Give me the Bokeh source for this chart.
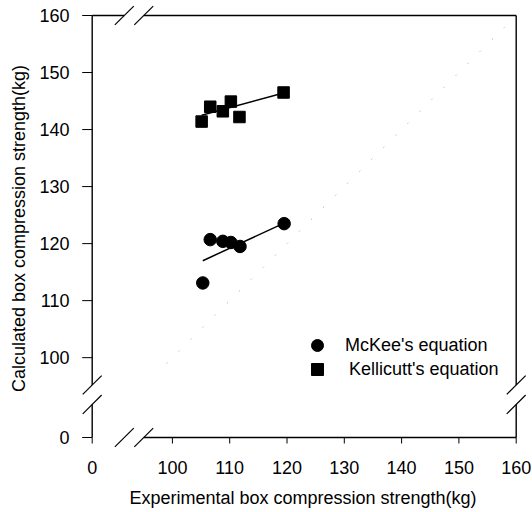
from bokeh.plotting import figure
from bokeh.models import Range1d, FixedTicker, Legend, LegendItem
from bokeh.embed import file_html
from bokeh.resources import INLINE

# ---- data ----
mckee_x = [105.3, 106.6, 108.8, 110.2, 111.8, 119.5]
mckee_y = [113.1, 120.7, 120.4, 120.2, 119.5, 123.5]
kelli_x = [105.1, 106.6, 108.8, 110.2, 111.7, 119.4]
kelli_y = [141.4, 144.0, 143.2, 144.9, 142.2, 146.5]

mckee_fit_x = [105.3, 119.5]
mckee_fit_y = [117.0, 123.6]
kelli_fit_x = [105.1, 119.4]
kelli_fit_y = [142.5, 146.4]

diag_x = [99.0, 158.0]
diag_y = [99.0, 158.0]

# broken axes: 0 is drawn at virtual position 86
axis_zero = 86
axis_max = 160
tick_values = [86, 100, 110, 120, 130, 140, 150, 160]
tick_labels = ["0", "100", "110", "120", "130", "140", "150", "160"]
x_breaks = [91.6, 95.0]
y_breaks = [91.8, 95.2]

FONT = "Liberation Sans"
FS = "18px"

X0, X1 = 83.085, 162.496
Y0, Y1 = 82.844, 162.455
FW, FH = 455, 454
px_x = FW / (X1 - X0)   # pixels per unit
px_y = FH / (Y1 - Y0)

p = figure(width=532, height=512, frame_width=FW, frame_height=FH,
           min_border_left=75, min_border_right=2, min_border_top=1, min_border_bottom=57,
           x_range=Range1d(X0, X1), y_range=Range1d(Y0, Y1),
           output_backend="svg", toolbar_location=None,
           x_axis_label="Experimental box compression strength(kg)",
           y_axis_label="Calculated box compression strength(kg)")

p.outline_line_color = None
p.xgrid.visible = False
p.ygrid.visible = False
p.background_fill_color = "white"
p.border_fill_color = "white"

overrides = {v: t for v, t in zip(tick_values, tick_labels)}
for ax in (p.xaxis[0], p.yaxis[0]):
    ax.ticker = FixedTicker(ticks=tick_values)
    ax.major_label_overrides = overrides
    ax.axis_line_color = None
    ax.minor_tick_line_color = None
    ax.major_tick_line_color = None
    ax.major_tick_in = 0
    ax.major_tick_out = 0
    ax.major_label_text_font = FONT
    ax.major_label_text_font_size = FS
    ax.major_label_text_color = "black"
    ax.axis_label_text_font = FONT
    ax.axis_label_text_font_size = FS
    ax.axis_label_text_font_style = "normal"
    ax.axis_label_text_color = "black"

p.xaxis.major_label_standoff = 5
p.xaxis.axis_label_standoff = 11
p.yaxis.major_label_standoff = 6
p.yaxis.axis_label_standoff = 7

# tick marks at the broken-axis position
xt_len = 6 / px_y
yt_len = 10 / px_x
p.segment(tick_values, [axis_zero] * len(tick_values), tick_values,
          [axis_zero - xt_len] * len(tick_values), line_color="black", line_width=1)
p.segment([axis_zero] * len(tick_values), tick_values,
          [axis_zero - yt_len] * len(tick_values), tick_values, line_color="black", line_width=1)

# frame lines with breaks
fx0 = [x_breaks[1], axis_zero, axis_zero, axis_zero, x_breaks[1], axis_max, axis_max]
fy0 = [axis_zero, y_breaks[1], axis_zero, axis_max, axis_max, y_breaks[1], axis_zero]
fx1 = [axis_max, axis_zero, axis_zero, x_breaks[0], axis_max, axis_max, axis_max]
fy1 = [axis_zero, axis_max, y_breaks[0], axis_max, axis_max, axis_max, y_breaks[0]]
p.segment(fx0, fy0, fx1, fy1, line_color="black", line_width=1.4)

# break marks
h = 1.65
bx0, by0, bx1, by1 = [], [], [], []
for b in x_breaks:
    for yy in (axis_zero, axis_max):
        bx0.append(b - h); by0.append(yy - h); bx1.append(b + h); by1.append(yy + h)
for b in y_breaks:
    for xx in (axis_zero, axis_max):
        bx0.append(xx - h); by0.append(b - h); bx1.append(xx + h); by1.append(b + h)
p.segment(bx0, by0, bx1, by1, line_color="black", line_width=1.2)

# 1:1 dotted line
p.line(diag_x, diag_y, line_color="#999999", line_width=1, line_dash="1 16")

# fitted lines
p.line(mckee_fit_x, mckee_fit_y, line_color="black", line_width=1.5)
p.line(kelli_fit_x, kelli_fit_y, line_color="black", line_width=1.5)

r1 = p.scatter(mckee_x, mckee_y, marker="circle", size=12.5, fill_color="black", line_color="black")
r2 = p.scatter(kelli_x, kelli_y, marker="square", size=11.5, fill_color="black", line_color="black")

common = dict(border_line_color=None, background_fill_alpha=0, padding=0, margin=0,
              spacing=0, glyph_width=30, glyph_height=30, label_height=20,
              label_text_font=FONT, label_text_font_size=FS, label_text_color="black")
leg1 = Legend(items=[LegendItem(label="McKee's equation", renderers=[r1])],
              location=(227, 95), label_standoff=13, **common)
leg2 = Legend(items=[LegendItem(label="Kellicutt's equation", renderers=[r2])],
              location=(227, 71), label_standoff=17, **common)
p.add_layout(leg1)
p.add_layout(leg2)

open("out.html", "w").write(file_html(p, INLINE))
